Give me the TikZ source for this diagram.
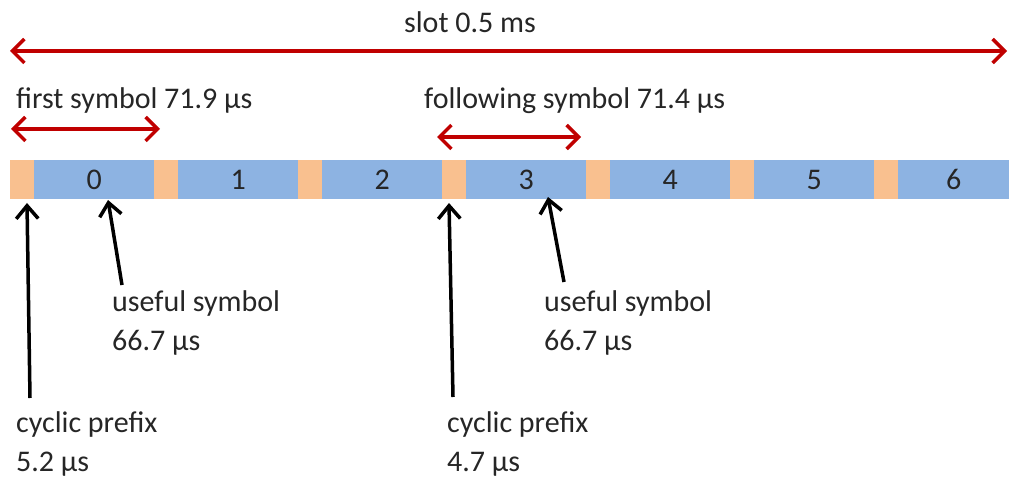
\documentclass[tikz,border=0pt]{standalone}
\usepackage{fontspec}
\setmainfont{Carlito}
\usetikzlibrary{arrows.meta}
\definecolor{cpcol}{HTML}{F9C08F}
\definecolor{symcol}{HTML}{8DB3E2}
\definecolor{redarr}{HTML}{C00000}
\definecolor{txt}{HTML}{262626}
\begin{document}
\begin{tikzpicture}[x=1pt,y=-1pt,
  lbl/.style={font=\fontsize{30}{31}\selectfont, text=txt, inner sep=0pt, anchor=west},
  cpbox/.style={fill=cpcol, draw=none, minimum width=24pt, minimum height=39pt, inner sep=0pt, anchor=north west},
  symbox/.style={fill=symcol, draw=none, minimum width=120pt, minimum height=39pt, inner sep=0pt, anchor=north west, font=\fontsize{30}{31}\selectfont, text=txt},
  redarrow/.style={draw=redarr, line width=3.5pt, {Straight Barb[length=12pt,width=24pt,line width=3.5pt]}-{Straight Barb[length=12pt,width=24pt,line width=3.5pt]}},
  blackarrow/.style={draw=black, line width=3.5pt, -{Straight Barb[length=13pt,width=22pt,line width=3.5pt]}}
]
\useasboundingbox (0,0) rectangle (1009,478);
% bar
\foreach \i in {0,...,5}{
  \node[cpbox] (cp\i) at ({10+144*\i},160) {};
  \node[symbox] (s\i) at ({34+144*\i},160) {\i};
}
\node[cpbox] (cp6) at (874,160) {};
\node[symbox, minimum width=111pt] (s6) at (898,160) {6};
% top arrows
\coordinate (slotL) at (10,51);
\coordinate (slotR) at (1007,51);
\draw[redarrow] (slotL) -- (slotR);
\node[lbl, anchor=center] (slot) at (470,22) {slot 0.5 ms};
\node[lbl] (first) at (16,101) {first symbol 71.9 µs};
\coordinate (fL) at (11,129);
\coordinate (fR) at (160,129);
\draw[redarrow] (fL) -- (fR);
\node[lbl] (foll) at (424,101) {following symbol 71.4 µs};
\coordinate (gL) at (437,137);
\coordinate (gR) at (581,137);
\draw[redarrow] (gL) -- (gR);
% labels below
\node[lbl] (us1) at (112,304) {useful symbol};
\node[lbl] (us1v) at (112,343) {66.7 µs};
\node[lbl] (cp1) at (16,424) {cyclic prefix};
\node[lbl] (cp1v) at (16,464) {5.2 µs};
\node[lbl] (us2) at (544,304) {useful symbol};
\node[lbl] (us2v) at (544,343) {66.7 µs};
\node[lbl] (cp2) at (447,424) {cyclic prefix};
\node[lbl] (cp2v) at (447,464) {4.7 µs};
% black arrows
\coordinate (a1s) at (30,398);
\coordinate (a1e) at (27,203);
\coordinate (a2s) at (122,285);
\coordinate (a2e) at (108,200);
\coordinate (a3s) at (453,397);
\coordinate (a3e) at (449,203);
\coordinate (a4s) at (564,282);
\coordinate (a4e) at (548,197);
\draw[blackarrow] (a1s) -- (a1e);
\draw[blackarrow] (a2s) -- (a2e);
\draw[blackarrow] (a3s) -- (a3e);
\draw[blackarrow] (a4s) -- (a4e);
\end{tikzpicture}
\end{document}
